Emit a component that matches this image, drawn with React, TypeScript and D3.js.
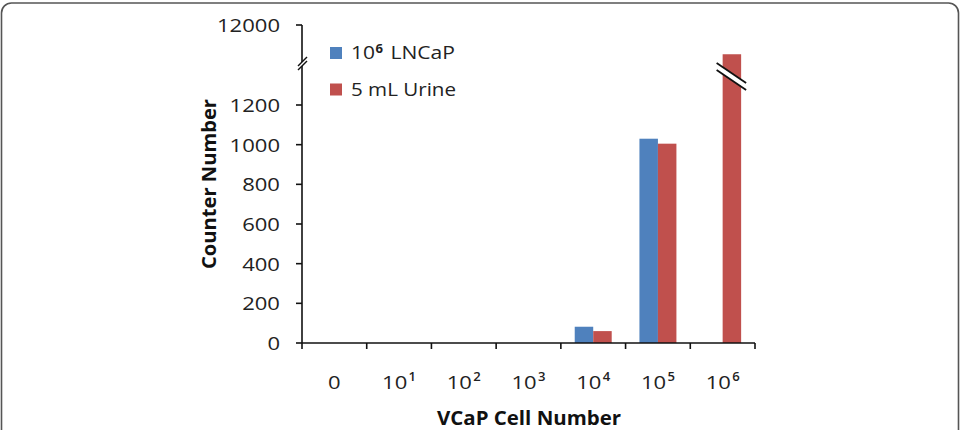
import React from 'react';
import * as d3 from 'd3';

// exponent of each VCaP cell number category ("0" is drawn as plain 0)
const categories = ['0', '1', '2', '3', '4', '5', '6'];
const lncapCounts = [0, 0, 0, 0, 82, 1030, 0];
const urineCounts = [0, 0, 0, 0, 60, 1005, 11100];
const lowTicks = [0, 200, 400, 600, 800, 1000, 1200];
const highTicks = [12000];
const seriesLabels = [
  { base: '10', sup: '6', rest: 'LNCaP' },
  { base: '', sup: '', rest: '5 mL Urine' },
];

const BLUE = '#4f81bd';
const RED = '#c0504d';
const FONT = '"Open Sans", Lato, sans-serif';
const DIGIT_W = 12.6; // digits in the source figure are wide

const App: React.FC = () => {
  const width = 961;
  const height = 430;
  const left = 302;
  const right = 755;
  const baseY = 343;

  const yLow = d3.scaleLinear().domain([0, 1200]).range([baseY, 105]);
  const yHigh = d3.scaleLinear().domain([10000, 12000]).range([90, 25]);
  const y = (v: number) => (v <= 1200 ? yLow(v) : yHigh(v));

  const x0 = d3.scaleBand<string>().domain(categories).range([left, right]).padding(0);
  const x1 = d3.scaleBand<string>()
    .domain(['lncap', 'urine'])
    .range([0, x0.bandwidth()])
    .paddingInner(0)
    .paddingOuter(0.75);

  const series = [
    { key: 'lncap', values: lncapCounts, color: BLUE },
    { key: 'urine', values: urineCounts, color: RED },
  ];

  const boundaries = categories.map(c => x0(c)!).concat([right]);
  const breakY = 63;

  const tickLabel = (t: number, ty: number) => (
    <text
      x={left - 22}
      y={ty + 7}
      textAnchor="end"
      fontFamily={FONT}
      fontSize={18}
      textLength={String(t).length * DIGIT_W}
      lengthAdjust="spacingAndGlyphs"
      fill="#222"
    >
      {t}
    </text>
  );

  return (
    <svg width={width} height={height} style={{ position: 'fixed', left: 0, top: 0 }}>
      <rect width={width} height={height} fill="#fff" />
      <rect x={1.5} y={3} width={957} height={460} rx={10} fill="none" stroke="#555" strokeWidth={1.6} />

      {/* bars */}
      {series.map(s => (
        <g key={s.key} fill={s.color}>
          {categories.map((c, i) => s.values[i] > 0 && (
            <rect
              key={c}
              x={x0(c)! + x1(s.key)!}
              y={y(s.values[i])}
              width={x1.bandwidth()}
              height={baseY - y(s.values[i])}
            />
          ))}
        </g>
      ))}

      {/* break on the tall bar */}
      {categories.map((c, i) => urineCounts[i] > 1200 && (() => {
        const bx = x0(c)! + x1('urine')!;
        const bw = x1.bandwidth();
        const x1s = bx - 6, x2s = bx + bw + 5;
        const ya = 63, yb = 83, gap = 7;
        return (
          <g key={'brk' + c}>
            <polygon points={`${x1s},${ya} ${x2s},${yb} ${x2s},${yb + gap} ${x1s},${ya + gap}`} fill="#fff" />
            <line x1={x1s} y1={ya} x2={x2s} y2={yb} stroke="#111" strokeWidth={1.8} />
            <line x1={x1s} y1={ya + gap} x2={x2s} y2={yb + gap} stroke="#111" strokeWidth={1.8} />
          </g>
        );
      })())}

      {/* y axis */}
      <line x1={left} y1={25} x2={left} y2={baseY} stroke="#111" strokeWidth={1.6} />
      <polygon points={`${left - 4},${breakY + 3} ${left + 4},${breakY - 5} ${left + 4},${breakY - 1} ${left - 4},${breakY + 7}`} fill="#fff" />
      <line x1={left - 4} y1={breakY + 3} x2={left + 5} y2={breakY - 6} stroke="#111" strokeWidth={1.4} />
      <line x1={left - 4} y1={breakY + 7} x2={left + 5} y2={breakY - 2} stroke="#111" strokeWidth={1.4} />
      {lowTicks.map(t => (
        <g key={t}>
          <line x1={left - 6} x2={left} y1={yLow(t)} y2={yLow(t)} stroke="#111" strokeWidth={1.6} />
          {tickLabel(t, yLow(t))}
        </g>
      ))}
      {highTicks.map(t => (
        <g key={t}>
          <line x1={left - 6} x2={left} y1={yHigh(t)} y2={yHigh(t)} stroke="#111" strokeWidth={1.6} />
          {tickLabel(t, yHigh(t))}
        </g>
      ))}

      {/* x axis */}
      <line x1={left} y1={baseY} x2={right} y2={baseY} stroke="#111" strokeWidth={1.6} />
      {boundaries.map((b, i) => (
        <line key={i} x1={b} x2={b} y1={baseY} y2={baseY + 6} stroke="#111" strokeWidth={1.6} />
      ))}
      {categories.map(c => {
        const cx = x0(c)! + x0.bandwidth() / 2;
        if (c === '0') {
          return (
            <text key={c} x={cx} y={389} textAnchor="middle" fontFamily={FONT} fontSize={18}
              textLength={DIGIT_W} lengthAdjust="spacingAndGlyphs" fill="#222">0</text>
          );
        }
        return (
          <g key={c} fill="#222" fontFamily={FONT}>
            <text x={cx - 17} y={389} fontSize={18} textLength={2 * DIGIT_W} lengthAdjust="spacingAndGlyphs">10</text>
            <text x={cx + 9.5} y={381} fontSize={12.5} fontWeight={600} textLength={7.5} lengthAdjust="spacingAndGlyphs">{c}</text>
          </g>
        );
      })}

      {/* axis titles */}
      <text
        transform={`translate(216,184) rotate(-90)`}
        textAnchor="middle"
        fontFamily={FONT}
        fontWeight="bold"
        fontSize={20}
        textLength={170}
        lengthAdjust="spacingAndGlyphs"
        fill="#111"
      >
        Counter Number
      </text>
      <text
        x={529}
        y={425}
        textAnchor="middle"
        fontFamily={FONT}
        fontWeight="bold"
        fontSize={20}
        textLength={184}
        lengthAdjust="spacingAndGlyphs"
        fill="#111"
      >
        VCaP Cell Number
      </text>

      {/* legend */}
      {seriesLabels.map((lab, i) => {
        const ly = 59 + i * 36.5;
        return (
          <g key={lab.rest} fill="#222" fontFamily={FONT}>
            <rect x={330} y={ly - 12} width={12} height={12} fill={series[i].color} />
            {lab.base ? (
              <>
                <text x={351} y={ly} fontSize={18} textLength={24} lengthAdjust="spacingAndGlyphs">{lab.base}</text>
                <text x={375.5} y={ly - 6} fontSize={12.5} fontWeight="bold" textLength={7.5} lengthAdjust="spacingAndGlyphs">{lab.sup}</text>
                <text x={390.5} y={ly} fontSize={18} textLength={64.5} lengthAdjust="spacingAndGlyphs">{lab.rest}</text>
              </>
            ) : (
              <text x={351} y={ly} fontSize={18} textLength={105} lengthAdjust="spacingAndGlyphs">{lab.rest}</text>
            )}
          </g>
        );
      })}
    </svg>
  );
};

export default App;
